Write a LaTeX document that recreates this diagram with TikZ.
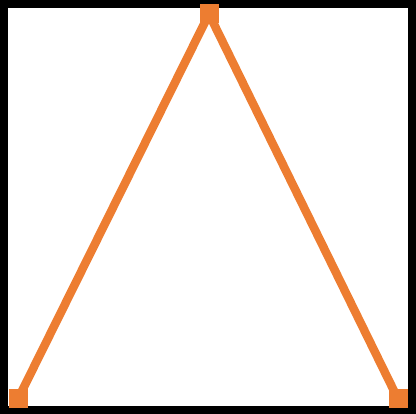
\documentclass[tikz,border=0pt]{standalone}
\usepackage{xcolor}
\usepackage{tikz}
\usetikzlibrary{positioning}
\definecolor{peakorange}{RGB}{237,125,49}

\begin{document}
\begin{tikzpicture}[
    x=1pt, y=-1pt,
    frame/.style={draw=black, line width=8pt},
    vertex/.style={rectangle, fill=peakorange, inner sep=0pt, minimum size=19pt},
    edge/.style={draw=peakorange, line width=8.5pt}
]
\useasboundingbox (0,0) rectangle (416,414);
\draw[frame] (4,4) rectangle (412,410);

\node[vertex] (top) at (209,14) {};
\node[vertex] (left) at (18,399) {};
\node[vertex] (right) at (398,399) {};

\draw[edge] (left.center) -- (top.center) -- (right.center);
\end{tikzpicture}
\end{document}
